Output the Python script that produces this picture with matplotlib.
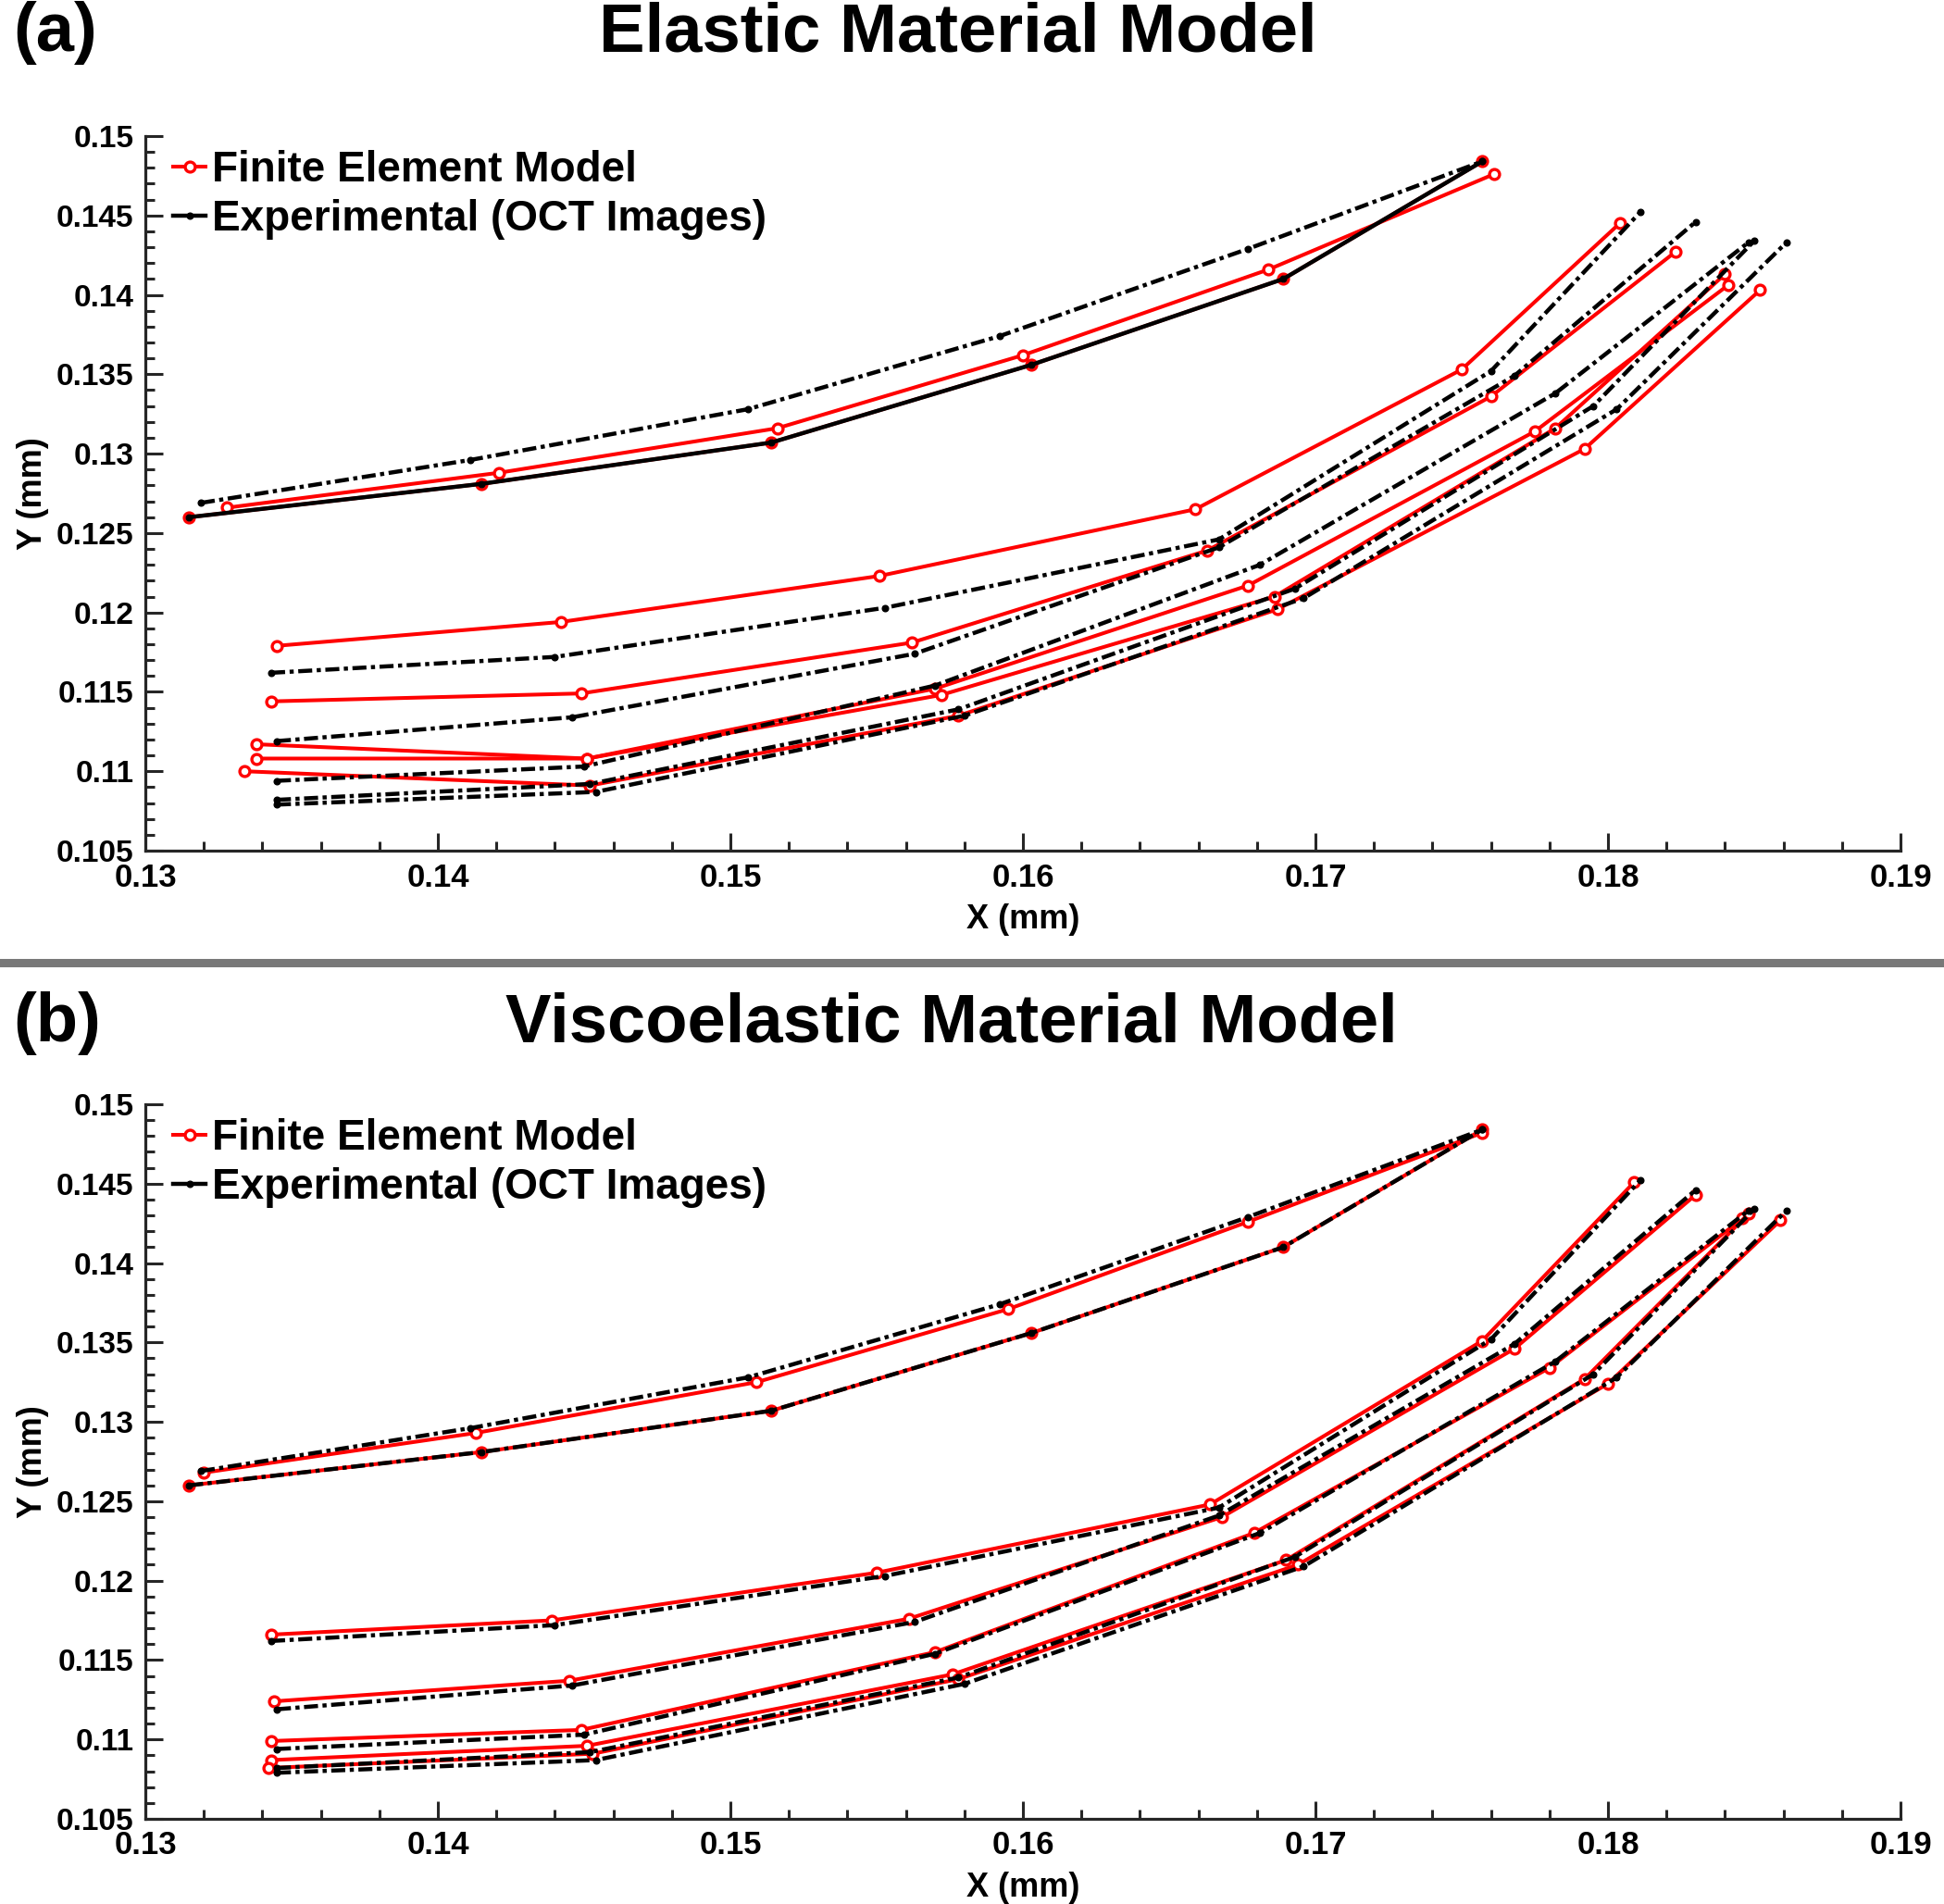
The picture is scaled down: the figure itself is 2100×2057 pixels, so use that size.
import matplotlib
matplotlib.use("Agg")
import matplotlib.pyplot as plt
from matplotlib.ticker import MultipleLocator, FuncFormatter
from matplotlib.lines import Line2D

plt.rcParams['font.family'] = ['Liberation Sans', 'DejaVu Sans']
plt.rcParams['font.weight'] = 'bold'

# experimental contours (OCT), same in both panels
exp_x = [
    [0.1315, 0.1415, 0.1514, 0.1603, 0.1689, 0.1757],
    [0.1319, 0.1411, 0.1506, 0.1592, 0.1677, 0.1757],
    [0.1343, 0.1440, 0.1553, 0.1667, 0.1760, 0.1811],
    [0.1345, 0.1446, 0.1563, 0.1667, 0.1768, 0.1830],
    [0.1345, 0.1450, 0.1570, 0.1681, 0.1782, 0.1848],
    [0.1345, 0.1452, 0.1578, 0.1693, 0.1795, 0.1850],
    [0.1345, 0.1454, 0.1580, 0.1696, 0.1803, 0.1861],
]
exp_y = [
    [0.1260, 0.1281, 0.1307, 0.1356, 0.1410, 0.1484],
    [0.1269, 0.1296, 0.1328, 0.1374, 0.1429, 0.1484],
    [0.1162, 0.1172, 0.1203, 0.1246, 0.1352, 0.1452],
    [0.1119, 0.1134, 0.1174, 0.1241, 0.1349, 0.1446],
    [0.1094, 0.1103, 0.1154, 0.1230, 0.1338, 0.1433],
    [0.1082, 0.1092, 0.1139, 0.1215, 0.1330, 0.1434],
    [0.1079, 0.1087, 0.1135, 0.1209, 0.1328, 0.1433],
]

# finite element - elastic
fe_a_x = [
    [0.1315, 0.1415, 0.1514, 0.1603, 0.1689, 0.1757],
    [0.1328, 0.1421, 0.1516, 0.1600, 0.1684, 0.1761],
    [0.1345, 0.1442, 0.1551, 0.1659, 0.1750, 0.1804],
    [0.1343, 0.1449, 0.1562, 0.1663, 0.1760, 0.1823],
    [0.1338, 0.1451, 0.1570, 0.1677, 0.1775, 0.1841],
    [0.1338, 0.1451, 0.1572, 0.1686, 0.1782, 0.1840],
    [0.1334, 0.1452, 0.1578, 0.1687, 0.1792, 0.1852],
]
fe_a_y = [
    [0.1260, 0.1281, 0.1307, 0.1356, 0.1410, 0.1484],
    [0.1266, 0.1288, 0.1316, 0.1362, 0.1416, 0.1476],
    [0.1179, 0.1194, 0.1223, 0.1265, 0.1353, 0.1445],
    [0.1144, 0.1149, 0.1181, 0.1239, 0.1336, 0.1427],
    [0.1117, 0.1108, 0.1152, 0.1217, 0.1314, 0.1406],
    [0.1108, 0.1108, 0.1148, 0.1210, 0.1316, 0.1413],
    [0.1100, 0.1091, 0.1135, 0.1202, 0.1303, 0.1403],
]

# finite element - viscoelastic
fe_b_x = [
    [0.1315, 0.1415, 0.1514, 0.1603, 0.1689, 0.1757],
    [0.1320, 0.1413, 0.1509, 0.1595, 0.1677, 0.1757],
    [0.1343, 0.1439, 0.1550, 0.1664, 0.1757, 0.1809],
    [0.1344, 0.1445, 0.1561, 0.1668, 0.1768, 0.1830],
    [0.1343, 0.1449, 0.1570, 0.1679, 0.1780, 0.1846],
    [0.1343, 0.1451, 0.1576, 0.1690, 0.1792, 0.1848],
    [0.1342, 0.1453, 0.1578, 0.1694, 0.1800, 0.1859],
]
fe_b_y = [
    [0.1260, 0.1281, 0.1307, 0.1356, 0.1410, 0.1484],
    [0.1268, 0.1293, 0.1325, 0.1371, 0.1426, 0.1482],
    [0.1166, 0.1175, 0.1205, 0.1248, 0.1351, 0.1451],
    [0.1124, 0.1137, 0.1176, 0.1240, 0.1346, 0.1443],
    [0.1099, 0.1106, 0.1155, 0.1230, 0.1334, 0.1428],
    [0.1087, 0.1096, 0.1141, 0.1213, 0.1327, 0.1431],
    [0.1082, 0.1091, 0.1138, 0.1210, 0.1324, 0.1427],
]

titles = ['Elastic Material Model', 'Viscoelastic Material Model']
letters = ['(a)', '(b)']
legend_labels = ['Finite Element Model', 'Experimental (OCT Images)']

dashdot = (0, (3.4, 1.1, 1.0, 1.1))

fig = plt.figure(figsize=(21, 20.57), dpi=100)
ax_a = fig.add_axes([0.07476, 0.55323, 0.90286, 0.37531])
ax_b = fig.add_axes([0.07476, 0.04473, 0.90286, 0.37531])

for k, (ax, fx, fy) in enumerate([(ax_a, fe_a_x, fe_a_y), (ax_b, fe_b_x, fe_b_y)]):
    # FE lines underneath
    for i in range(len(fx)):
        ax.plot(fx[i], fy[i], color='red', lw=2.9, marker='o', ms=7.8,
                mfc='white', mec='red', mew=2.4, zorder=2)
    # experimental on top
    for i in range(len(exp_x)):
        ls = '-' if (k == 0 and i == 0) else dashdot
        ax.plot(exp_x[i], exp_y[i], color='black', lw=3.2, ls=ls,
                marker='o', ms=4.8, mfc='black', mec='black', zorder=3)

    ax.set_xlim(0.13, 0.19)
    ax.set_ylim(0.105, 0.15)
    ax.xaxis.set_major_locator(MultipleLocator(0.01))
    ax.xaxis.set_minor_locator(MultipleLocator(0.002))
    ax.yaxis.set_major_locator(MultipleLocator(0.005))
    ax.yaxis.set_minor_locator(MultipleLocator(0.001))
    fmt = FuncFormatter(lambda v, p: '%g' % round(v, 4))
    ax.xaxis.set_major_formatter(fmt)
    ax.yaxis.set_major_formatter(fmt)
    ax.spines['top'].set_visible(False)
    ax.spines['right'].set_visible(False)
    for s in ['left', 'bottom']:
        ax.spines[s].set_linewidth(2.3)
        ax.spines[s].set_color('#262626')
    ax.tick_params(which='both', direction='in', width=2.2, color='#262626')
    ax.tick_params(which='major', length=14)
    ax.tick_params(which='minor', length=7.5)
    ax.tick_params(axis='y', which='major', labelsize=24, pad=9)
    ax.tick_params(axis='x', which='major', labelsize=25, pad=9)
    for lab in ax.get_xticklabels() + ax.get_yticklabels():
        lab.set_fontweight('bold')
    ax.set_xlabel('X (mm)', fontsize=26, fontweight='bold', labelpad=8)
    ax.set_ylabel('Y (mm)', fontsize=26, fontweight='bold', labelpad=6)

    handles = [
        Line2D([], [], color='red', lw=2.9, marker='o', ms=7.8, mfc='white', mec='red', mew=2.4),
        Line2D([], [], color='black', lw=3.2, marker='o', ms=4.8, mfc='black'),
    ]
    leg = ax.legend(handles, legend_labels, loc='upper left', bbox_to_anchor=(0.016, 0.981),
                    frameon=False, fontsize=33, handlelength=0.75, handletextpad=0.15,
                    labelspacing=0.2, borderpad=0, borderaxespad=0)
    for t in leg.get_texts():
        t.set_fontweight('bold')

# panel titles and letters
fig.text(0.493, 1 - 55 / 2057, titles[0], fontsize=53.5, fontweight='bold', ha='center', va='baseline')
fig.text(0.4895, 1 - 1125 / 2057, titles[1], fontsize=53.5, fontweight='bold', ha='center', va='baseline')
fig.text(0.007, 1 - 55 / 2057, letters[0], fontsize=53.5, fontweight='bold', ha='left', va='baseline')
fig.text(0.007, 1 - 1125 / 2057, letters[1], fontsize=53.5, fontweight='bold', ha='left', va='baseline')

# grey separator between the panels
fig.add_artist(Line2D([0, 1], [1 - 1039.5 / 2057, 1 - 1039.5 / 2057], transform=fig.transFigure,
                      color='#787878', lw=6.5))

fig.savefig('out.png', dpi=100)
